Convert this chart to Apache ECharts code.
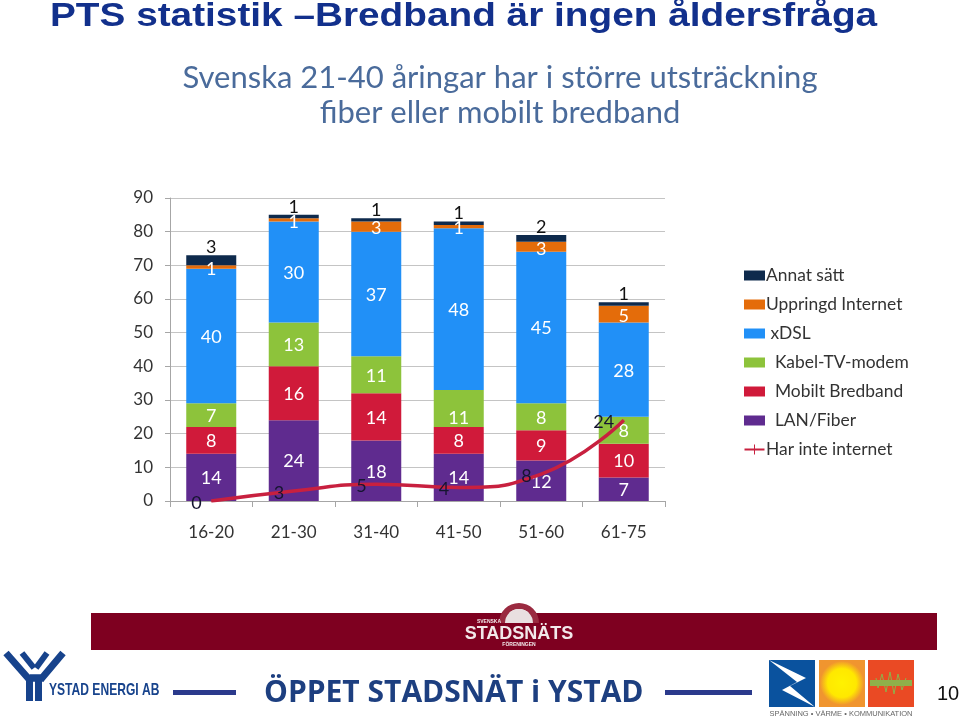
<!DOCTYPE html>
<html>
<head>
<meta charset="utf-8">
<style>html,body{margin:0;background:#fff}#main{width:960px;height:718px}</style>
<script src="https://cdn.jsdelivr.net/npm/echarts@6/dist/echarts.min.js"></script>
</head>
<body>
<div id="main"></div>
<script>
const categories = ['16-20', '21-30', '31-40', '41-50', '51-60', '61-75'];
const lanFiber = [14, 24, 18, 14, 12, 7];
const mobilt = [8, 16, 14, 8, 9, 10];
const kabel = [7, 13, 11, 11, 8, 8];
const xdsl = [40, 30, 37, 48, 45, 28];
const uppringd = [1, 1, 3, 1, 3, 5];
const annat = [3, 1, 1, 1, 2, 1];
const harInte = [0, 3, 5, 4, 8, 24];
const legendNames = ['Annat sätt', 'Uppringd Internet', 'xDSL', 'Kabel-TV-modem', 'Mobilt Bredband', 'LAN/Fiber', 'Har inte internet'];

const font = 'Lato';
const chart = echarts.init(document.getElementById('main'));

// vit etikett mitt i stapeln, svart ovanpå för Annat sätt
function bar(name, values, color, labelOpt) {
  return {
    name: name,
    type: 'bar',
    stack: 'total',
    barWidth: 50,
    data: values,
    itemStyle: { color: color },
    label: Object.assign({
      show: true,
      position: 'inside',
      offset: [0, 1],
      color: '#fff',
      fontFamily: font,
      fontSize: 18
    }, labelOpt)
  };
}

const kabelBar = bar('Kabel-TV-modem', kabel, '#8dc33b');
// 11:an i 41-50 ligger lägre i originalet
kabelBar.data = kabel.map((v, i) => i === 3 ? { value: v, label: { offset: [0, 10] } } : v);

function box(x, y, w, h, fill) {
  return { type: 'rect', shape: { x: x, y: y, width: w, height: h }, style: { fill: fill } };
}
function txt(x, y, text, size, color, weight, align, family) {
  return {
    type: 'text', x: x, y: y,
    style: {
      text: text, fill: color, align: align || 'left', verticalAlign: 'middle',
      font: (weight || 'normal') + ' ' + size + 'px ' + (family || '"Liberation Sans"')
    }
  };
}
function poly(points, fill) {
  return { type: 'polygon', shape: { points: points }, style: { fill: fill } };
}
function stroke(points, color, width) {
  return { type: 'polyline', shape: { points: points }, style: { stroke: color, lineWidth: width, fill: 'none' } };
}

const navy = '#17438c';
const decoration = [
  // rubriker
  Object.assign(txt(50, 17, 'PTS statistik –Bredband är ingen åldersfråga', 34, '#12308c', 'bold'), { scaleX: 1.14 }),
  txt(500, 78, 'Svenska 21-40 åringar har i större utsträckning', 31, '#4a6b9b', 'normal', 'center', font),
  txt(500, 113, 'fiber eller mobilt bredband', 31, '#4a6b9b', 'normal', 'center', font),
  // rött band med föreningens logga
  box(91, 613, 846, 37, '#7e0020'),
  { type: 'sector', shape: { cx: 519, cy: 623, r: 20, r0: 14, startAngle: Math.PI, endAngle: 2 * Math.PI }, style: { fill: '#9a2a40' } },
  { type: 'sector', shape: { cx: 519, cy: 623, r: 14, r0: 0, startAngle: Math.PI, endAngle: 2 * Math.PI }, style: { fill: '#e9dfe0' } },
  txt(519, 634, 'STADSNÄTS', 18, '#f2e8ea', 'bold', 'center'),
  txt(519, 645, 'FÖRENINGEN', 5, '#f2e8ea', 'bold', 'center'),
  txt(489, 622, 'SVENSKA', 5, '#f2e8ea', 'bold', 'center'),
  // Ystad Energi
  stroke([[6, 653], [28, 678], [44, 678]], navy, 7),
  stroke([[22, 653], [34, 668]], navy, 6),
  stroke([[63, 653], [42, 678], [30, 678]], navy, 7),
  stroke([[47, 653], [36, 668]], navy, 6),
  box(26, 675, 7, 26, navy),
  box(35, 675, 7, 26, navy),
  Object.assign(txt(49, 690, 'YSTAD ENERGI AB', 17, navy, 'bold'), { scaleX: 0.71 }),
  box(173, 690, 63, 5, '#2b3a8c'),
  txt(264, 693, 'ÖPPET STADSNÄT i YSTAD', 30, '#1d3f80', 'bold', 'left', '"Open Sans"'),
  box(665, 690, 87, 5, '#2b3a8c'),
  // tre rutor nere till höger
  box(769, 660, 46, 47, '#0a529e'),
  poly([[769, 660], [806, 678], [790, 686], [815, 707], [782, 690], [797, 682]], '#fff'),
  box(819, 660, 46, 47, '#f0952f'),
  { type: 'circle', shape: { cx: 842, cy: 683, r: 22 }, style: { fill: { type: 'radial', x: 0.5, y: 0.5, r: 0.5, colorStops: [{ offset: 0, color: '#fff200' }, { offset: 0.65, color: '#ffe800' }, { offset: 1, color: '#f0952f' }] } } },
  box(868, 660, 46, 47, '#ea4a24'),
  box(870, 680, 42, 6, '#8fb04a'),
  stroke([[876, 678], [878, 688], [882, 674], [886, 692], [890, 672], [894, 694], [898, 674], [902, 690], [906, 678]], '#8fb04a', 1),
  txt(841, 714, 'SPÄNNING • VÄRME • KOMMUNIKATION', 7.5, '#666', 'normal', 'center'),
  txt(948, 694, '10', 20, '#111', 'normal', 'center')
];

const option = {
  animation: false,
  backgroundColor: '#fff',
  grid: { left: 170, right: 295, top: 198, bottom: 217 },
  legend: {
    orient: 'vertical',
    left: 739,
    top: 261,
    itemWidth: 21,
    itemHeight: 10,
    itemGap: 10,
    data: legendNames.map(n => ({
      name: n,
      icon: n === 'Har inte internet' ? 'path://M0 9H20V11H0Z M9.5 5H10.5V15H9.5Z' : 'rect'
    })),
    formatter: name => ({ 'xDSL': ' ', 'Kabel-TV-modem': '  ', 'Mobilt Bredband': '  ', 'LAN/Fiber': '  ' }[name] || '') + name,
    textStyle: { fontFamily: font, fontSize: 17.4, color: '#333', lineHeight: 19, padding: [0, 0, 0, -4] }
  },
  xAxis: {
    type: 'category',
    data: categories,
    axisLine: { lineStyle: { color: '#a6a6a6' } },
    axisTick: { show: true, length: 6, lineStyle: { color: '#a6a6a6' } },
    axisLabel: { color: '#333', fontFamily: font, fontSize: 17, margin: 23 }
  },
  yAxis: {
    type: 'value',
    min: 0,
    max: 90,
    interval: 10,
    axisLine: { show: true, lineStyle: { color: '#a6a6a6' } },
    axisTick: { show: true, length: 5, lineStyle: { color: '#a6a6a6' } },
    axisLabel: { color: '#333', fontFamily: font, fontSize: 17, margin: 17 },
    splitLine: { lineStyle: { color: '#c4c4c4', width: 1 } }
  },
  series: [
    bar('LAN/Fiber', lanFiber, '#5f2b8f'),
    bar('Mobilt Bredband', mobilt, '#d01a3a'),
    kabelBar,
    bar('xDSL', xdsl, '#2190f7'),
    bar('Uppringd Internet', uppringd, '#e46c0a', { offset: [0, 2] }),
    bar('Annat sätt', annat, '#0e2a4c', { position: 'top', offset: [0, 6], color: '#111' }),
    {
      name: 'Har inte internet',
      type: 'line',
      smooth: true,
      data: harInte,
      symbol: 'rect',
      symbolSize: 1,
      showAllSymbol: true,
      lineStyle: { color: '#c8203f', width: 3.5 },
      itemStyle: { color: '#c8203f' },
      z: 5,
      label: { show: true, position: 'left', distance: 9, offset: [0, 2], color: '#151530', fontFamily: font, fontSize: 18 }
    }
  ],
  graphic: decoration
};
chart.setOption(option);
</script>
</body>
</html>
